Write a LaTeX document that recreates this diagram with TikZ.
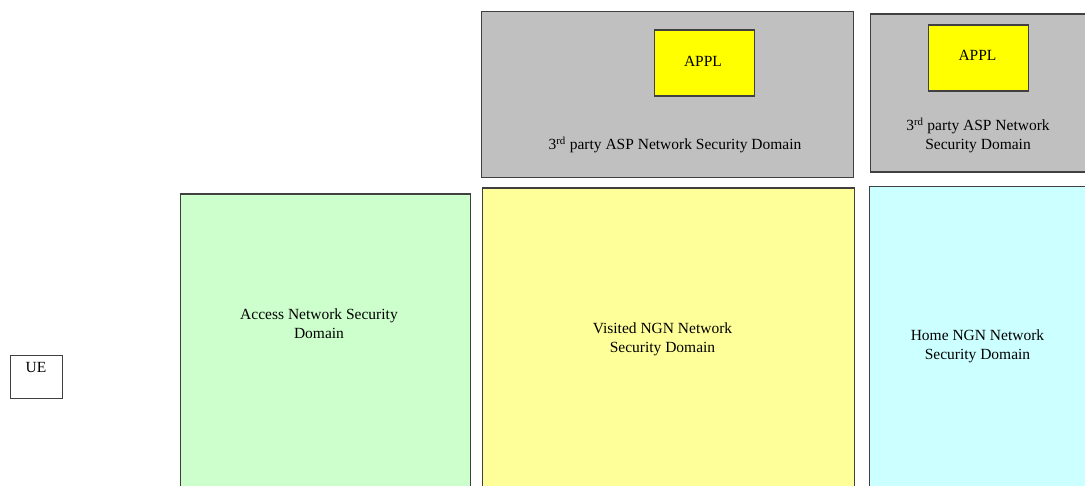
\documentclass[tikz,border=0pt]{standalone}
\usepackage{fontspec}
\setmainfont{Liberation Serif}
\begin{document}
\begin{tikzpicture}[x=1pt,y=-1pt,
  box/.style={draw=black!75,line width=1.2pt,rectangle,inner sep=0pt},
  lbl/.style={align=center,inner sep=0pt,font=\fontsize{15.5}{19}\selectfont}]
\definecolor{grayfill}{HTML}{C0C0C0}
\definecolor{applfill}{HTML}{FFFF00}
\definecolor{greenfill}{HTML}{CCFFCC}
\definecolor{yellowfill}{HTML}{FFFF99}
\definecolor{cyanfill}{HTML}{CCFFFF}
\useasboundingbox (0,0) rectangle (1085,486);
\clip (0,0) rectangle (1085,486);
% boxes
\node[box,fill=grayfill,anchor=north west,minimum width=372pt,minimum height=166pt] (asp1) at (481,11) {};
\node[box,fill=applfill,anchor=north west,minimum width=100pt,minimum height=66pt] (appl1) at (653.5,29.5) {};
\node[box,fill=grayfill,anchor=north west,minimum width=260pt,minimum height=158pt] (asp2) at (869.5,13.5) {};
\node[box,fill=applfill,anchor=north west,minimum width=100pt,minimum height=66pt] (appl2) at (927.5,24.5) {};
\node[box,fill=white,anchor=north west,minimum width=52pt,minimum height=43pt] (ue) at (10,355) {};
\node[box,fill=greenfill,anchor=north west,minimum width=290pt,minimum height=320pt] (access) at (180,193.5) {};
\node[box,fill=yellowfill,anchor=north west,minimum width=372pt,minimum height=320pt] (visited) at (482,187.5) {};
\node[box,fill=cyanfill,anchor=north west,minimum width=260pt,minimum height=320pt] (home) at (868.5,186) {};
% labels
\node[lbl] (t-appl1) at (703,61) {APPL};
\node[lbl] (t-appl2) at (977.5,55) {APPL};
\node[lbl] (t-asp1) at (675,145) {3\textsuperscript{rd} party ASP Network Security Domain};
\node[lbl] (t-asp2) at (978,135.5) {3\textsuperscript{rd} party ASP Network\\Security Domain};
\node[lbl] (t-ue) at (36,367.5) {UE};
\node[lbl] (t-access) at (319,323.5) {Access Network Security\\Domain};
\node[lbl] (t-visited) at (662.5,339.5) {Visited NGN Network\\Security Domain};
\node[lbl] (t-home) at (977.5,346.5) {Home NGN Network\\Security Domain};
\end{tikzpicture}
\end{document}
